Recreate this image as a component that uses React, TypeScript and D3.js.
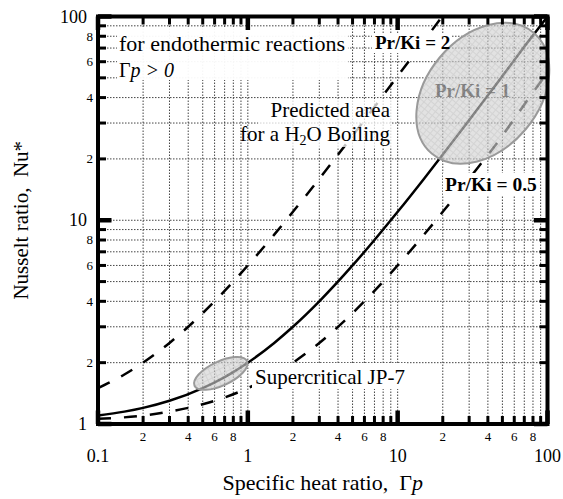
import React from "react";
import * as d3 from "d3";

// ---------- data ----------
const xDomain = [0.1, 100];
const yDomain = [1, 100];

const xMajorValues = [0.1, 1, 10, 100];
const xMajorLabels = ["0.1", "1", "10", "100"];
const yMajorValues = [1, 10, 100];
const yMajorLabels = ["1", "10", "100"];
const minorMultipliers = [2, 3, 4, 5, 6, 7, 8, 9];
const minorLabelMultipliers = [2, 4, 6, 8];

// Pr/Ki = 1 (solid)
const gammaSolid = [0.1, 0.15, 0.2, 0.3, 0.5, 0.7, 1, 1.5, 2, 3, 5, 7, 10, 15, 20, 30, 50, 70, 100];
const nuSolid = [1.1, 1.15, 1.2, 1.3, 1.5, 1.7, 2, 2.5, 3, 4, 6, 8, 11, 16, 21, 31, 51, 71, 100];
// Pr/Ki = 2 (dashed, upper)
const gammaUpper = [0.1, 0.15, 0.2, 0.3, 0.5, 0.7, 1, 1.5, 2, 3, 5, 7, 10, 15, 19.8];
const nuUpper = [1.5, 1.75, 2, 2.5, 3.5, 4.5, 6, 8.5, 11, 16, 26, 36, 51, 76, 100];
// Pr/Ki = 0.5 (dashed, lower)
const gammaLower = [0.1, 0.2, 0.3, 0.5, 0.7, 1, 1.5, 2, 3, 5, 7, 10, 15, 20, 30, 50, 70, 100];
const nuLower = [1.06, 1.1, 1.15, 1.25, 1.35, 1.5, 1.75, 2, 2.5, 3.5, 4.5, 6, 8.5, 11, 16, 26, 37, 53];

// annotation ellipses: centres in data units
const ellipseCentersGamma = [37, 0.66];
const ellipseCentersNu = [42, 1.77];

// ---------- layout ----------
const W = 563;
const H = 499;
const L = 98;
const R = 547.5;
const T = 16.5;
const B = 424;
const FONT = "Liberation Serif, Times New Roman, serif";

export default function App() {
  const x = d3.scaleLog().domain(xDomain).range([L, R]);
  const y = d3.scaleLog().domain(yDomain).range([B, T]);

  const xTicks: { v: number; major: boolean }[] = [];
  [0.1, 1, 10].forEach((d) => {
    xTicks.push({ v: d, major: true });
    minorMultipliers.forEach((m) => xTicks.push({ v: m * d, major: false }));
  });
  xTicks.push({ v: 100, major: true });
  const yTicks: { v: number; major: boolean }[] = [];
  [1, 10].forEach((d) => {
    yTicks.push({ v: d, major: true });
    minorMultipliers.forEach((m) => yTicks.push({ v: m * d, major: false }));
  });
  yTicks.push({ v: 100, major: true });

  const line = d3
    .line<[number, number]>()
    .x((d) => x(d[0]))
    .y((d) => y(d[1]))
    .curve(d3.curveMonotoneX);

  const solidPath = line(gammaSolid.map((g, i) => [g, nuSolid[i]]));
  const upperPath = line(gammaUpper.map((g, i) => [g, nuUpper[i]]));
  const lowerPath = line(gammaLower.map((g, i) => [g, nuLower[i]]));

  const ellipseGeom = [
    { rx: 79, ry: 56, angle: -50 },
    { rx: 29, ry: 12, angle: -25 },
  ];

  const minorLen = 8;
  const majorLen = 13.5;
  const ts = { fontFamily: FONT };

  return (
    <svg
      width={W}
      height={H}
      style={{ position: "absolute", left: 0, top: 0, display: "block", background: "#fff", fontFamily: FONT }}
    >
      <defs>
        <clipPath id="plotClip">
          <rect x={L} y={T} width={R - L} height={B - T} />
        </clipPath>
        <pattern id="mesh" width="5" height="5" patternUnits="userSpaceOnUse">
          <rect width="5" height="5" fill="#d2d2d2" />
          <path d="M0 0.5H5M0.5 0V5" stroke="#bcbcbc" strokeWidth="1" />
        </pattern>
      </defs>
      <rect x={0} y={0} width={W} height={H} fill="#fff" />

      {/* grid */}
      <g stroke="#444" strokeWidth={1} strokeDasharray="1.5,1.5" fill="none">
        {xTicks
          .filter((t) => t.v > 0.1 && t.v < 100)
          .map((t, i) => (
            <line key={"gx" + i} x1={x(t.v)} x2={x(t.v)} y1={T} y2={B} />
          ))}
        {yTicks
          .filter((t) => t.v > 1 && t.v < 100)
          .map((t, i) => (
            <line key={"gy" + i} x1={L} x2={R} y1={y(t.v)} y2={y(t.v)} />
          ))}
      </g>

      {/* curves */}
      <g clipPath="url(#plotClip)" fill="none" stroke="#000" strokeWidth={2.5}>
        <path d={solidPath || ""} />
        <path d={upperPath || ""} strokeDasharray="13,13" />
        <path d={lowerPath || ""} strokeDasharray="13,13" />
      </g>

      {/* text background boxes */}
      <rect x={117} y={28} width={231} height={52} fill="#fff" opacity={0.95} />
      <rect x={258} y={99} width={134} height={48} fill="#fff" opacity={0.75} />
      <rect x={372} y={33} width={80} height={20} fill="#fff" />
      <rect x={443} y={173} width={97} height={23} fill="#fff" />
      <rect x={252} y={363} width={154} height={26} fill="#fff" />

      {/* label beneath ellipse */}
      <text x={435} y={97} fontSize={19} fontWeight="bold" fill="#000" style={ts}>
        Pr/Ki = 1
      </text>

      {/* ellipses */}
      {ellipseGeom.map((e, i) => (
        <ellipse
          key={"el" + i}
          cx={0}
          cy={0}
          rx={e.rx}
          ry={e.ry}
          transform={`translate(${x(ellipseCentersGamma[i])},${y(ellipseCentersNu[i])}) rotate(${e.angle})`}
          fill="url(#mesh)"
          fillOpacity={0.65}
          stroke="#9a9a9a"
          strokeWidth={2}
        />
      ))}

      {/* annotations */}
      <g fill="#000" style={ts}>
        <text x={119} y={51} fontSize={22}>
          for endothermic reactions
        </text>
        <text x={119} y={77} fontSize={20}>
          Γ<tspan fontStyle="italic">p &gt; 0</tspan>
        </text>
        <text x={390} y={117} fontSize={21} textAnchor="end">
          Predicted area
        </text>
        <text x={390} y={141} fontSize={21} textAnchor="end">
          for a H<tspan fontSize={14} dy={4}>2</tspan>
          <tspan dy={-4}>O Boiling</tspan>
        </text>
        <text x={375} y={49} fontSize={19} fontWeight="bold">
          Pr/Ki = 2
        </text>
        <text x={445} y={191} fontSize={19.5} fontWeight="bold">
          Pr/Ki = 0.5
        </text>
        <text x={255} y={384} fontSize={21}>
          Supercritical JP-7
        </text>
      </g>

      {/* frame */}
      <rect x={L} y={T} width={R - L} height={B - T} fill="none" stroke="#000" strokeWidth={4} />

      {/* ticks */}
      <g stroke="#000">
        {xTicks.map((t, i) => {
          const len = t.major ? majorLen : minorLen;
          const sw = t.major ? 4.5 : 3;
          const xv = x(t.v);
          return (
            <g key={"tx" + i} strokeWidth={sw}>
              <line x1={xv} x2={xv} y1={B} y2={B - len} />
              <line x1={xv} x2={xv} y1={T} y2={T + len} />
            </g>
          );
        })}
        {yTicks.map((t, i) => {
          const len = t.major ? majorLen : minorLen;
          const sw = t.major ? 4.5 : 3;
          const yv = y(t.v);
          return (
            <g key={"ty" + i} strokeWidth={sw}>
              <line x1={L} x2={L + len} y1={yv} y2={yv} />
              <line x1={R} x2={R - len} y1={yv} y2={yv} />
            </g>
          );
        })}
      </g>

      {/* x tick labels */}
      <g fill="#000" textAnchor="middle" style={ts}>
        {[0.1, 1, 10].map((d) =>
          minorLabelMultipliers.map((m) => (
            <text key={"xl" + d + m} x={x(m * d)} y={441} fontSize={13}>
              {m}
            </text>
          ))
        )}
        {xMajorValues.map((v, i) => (
          <text key={"xM" + i} x={x(v)} y={462} fontSize={18}>
            {xMajorLabels[i]}
          </text>
        ))}
      </g>

      {/* y tick labels */}
      <g fill="#000" textAnchor="end" style={ts}>
        {[1, 10].map((d) =>
          minorLabelMultipliers.map((m) => (
            <text key={"yl" + d + m} x={93} y={y(m * d) + 4.5} fontSize={13}>
              {m}
            </text>
          ))
        )}
        {yMajorValues.map((v, i) => (
          <text key={"yM" + i} x={87} y={y(v) + 6} fontSize={18}>
            {yMajorLabels[i]}
          </text>
        ))}
      </g>

      {/* axis titles */}
      <text x={(L + R) / 2} y={490} fontSize={22} textAnchor="middle" fill="#000" style={ts}>
        Specific heat ratio,{"\u00a0 "}Γ<tspan fontStyle="italic">p</tspan>
      </text>
      <text
        transform={`translate(28,${(T + B) / 2}) rotate(-90)`}
        fontSize={21}
        textAnchor="middle"
        fill="#000"
        style={ts}
      >
        Nusselt ratio,{"\u00a0 "}Nu*
      </text>
    </svg>
  );
}
